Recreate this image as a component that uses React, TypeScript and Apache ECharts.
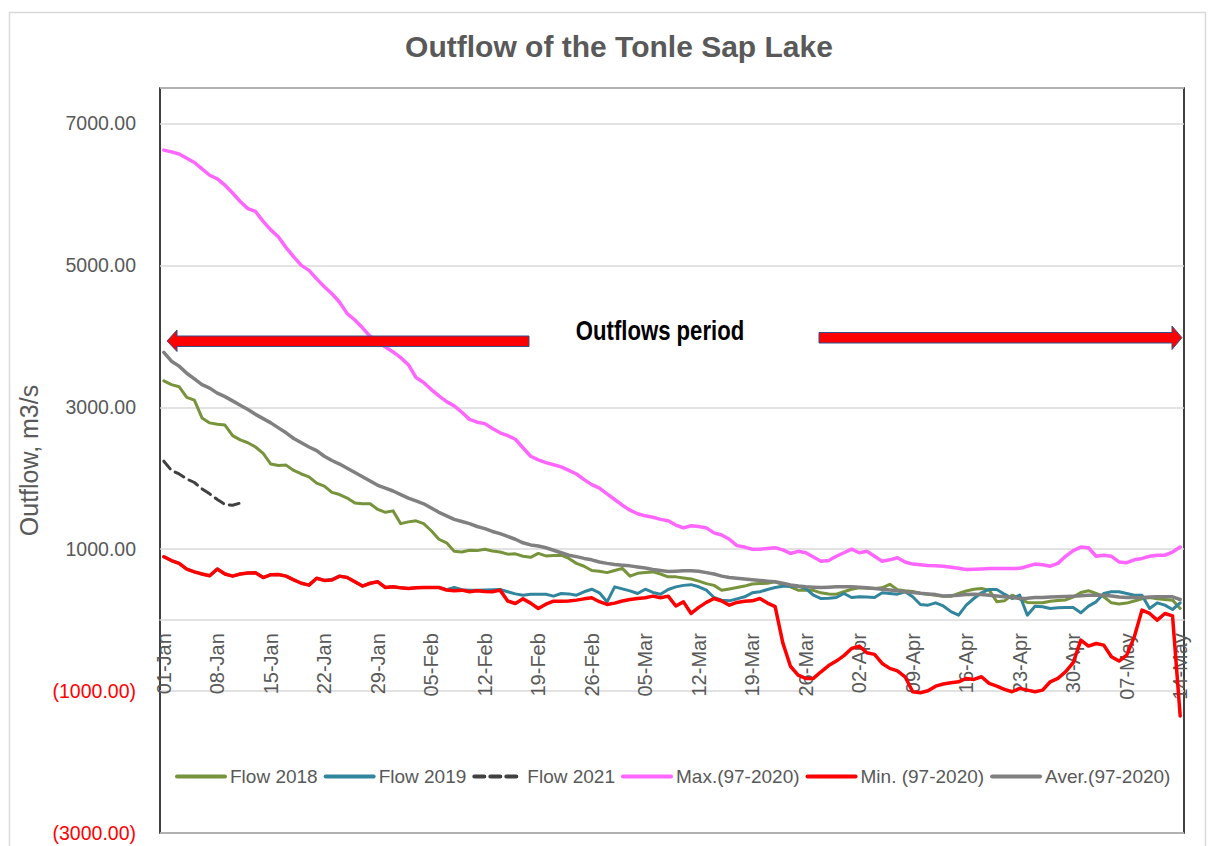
import React, { useEffect, useRef } from "react";
import * as echarts from "echarts";

// ---- categories: 01-Jan .. 14-May (daily) ----
const MONTHS = ["Jan", "Feb", "Mar", "Apr", "May"];
const MONTH_DAYS = [31, 28, 31, 30, 14];
const categories: string[] = [];
MONTHS.forEach((m, k) => {
  for (let d = 1; d <= MONTH_DAYS[k]; d++) {
    categories.push(`${d < 10 ? "0" + d : d}-${m}`);
  }
});

// ---- series values (m3/s) ----
const flow2018 = [
  3372, 3320, 3290, 3140, 3100, 2850, 2780, 2760, 2750, 2600,
  2540, 2500, 2440, 2350, 2200, 2180, 2185, 2110, 2060, 2020,
  1930, 1890, 1800, 1770, 1720, 1650, 1640, 1640, 1560, 1520,
  1540, 1360, 1385, 1400, 1360, 1260, 1140, 1090, 970, 960,
  985, 980, 1000, 975, 960, 930, 935, 900, 885, 940,
  905, 910, 915, 870, 800, 760, 700, 690, 670, 700,
  730, 620, 660, 670, 680, 650, 610, 610, 595, 580,
  550, 515, 490, 420, 440, 460, 480, 510, 516, 520,
  540, 500, 470, 423, 423, 420, 385, 370, 366, 400,
  435, 455, 450, 446, 455, 505, 430, 415, 405, 380,
  365, 352, 335, 335, 376, 410, 435, 446, 423, 260,
  272, 352, 300, 250, 244, 244, 265, 278, 285, 325,
  390, 415, 376, 330, 244, 228, 240, 270, 300, 319,
  300, 290, 282, 164,
];

const flow2019 = [
  894, 840, 800, 720, 680, 650, 625, 720, 650, 620,
  650, 665, 668, 600, 640, 643, 620, 568, 520, 493,
  590, 560, 575, 620, 600, 540, 480, 520, 540, 460,
  470, 455, 446, 455, 460, 460, 460, 430, 460, 430,
  422, 420, 425, 430, 432, 400, 370, 352, 366, 366,
  366, 338, 376, 370, 352, 400, 436, 385, 258, 469,
  440, 413, 376, 436, 390, 366, 432, 469, 490, 500,
  470, 423, 319, 282, 272, 300, 329, 385, 400, 432,
  460, 479, 479, 479, 446, 352, 305, 310, 319, 376,
  319, 329, 325, 319, 385, 375, 366, 399, 329, 220,
  211, 244, 200, 120, 70, 211, 305, 385, 432, 432,
  366, 305, 352, 70, 197, 188, 164, 174, 178, 178,
  103, 197, 258, 376, 399, 399, 376, 352, 352, 164,
  244, 211, 150, 244,
];

const flow2021 = [2240, 2110, 2060, 1990, 1940, 1850, 1780, 1700, 1630, 1620, 1650];

const maxFlow = [
  6625, 6600, 6570, 6510, 6450, 6360, 6270, 6220, 6130, 6020,
  5900, 5800, 5760, 5620, 5500, 5400, 5250, 5120, 5000, 4930,
  4810, 4700, 4600, 4480, 4320, 4230, 4120, 4000, 3930, 3850,
  3780, 3700, 3600, 3420, 3350, 3250, 3160, 3080, 3020, 2930,
  2830, 2790, 2770, 2700, 2640, 2600, 2550, 2430, 2310, 2260,
  2220, 2190, 2160, 2110, 2060, 1980, 1910, 1860, 1780, 1700,
  1620, 1550, 1500, 1470, 1450, 1420, 1400, 1340, 1300, 1330,
  1320, 1300, 1230, 1200, 1140, 1050, 1030, 1000, 1000, 1010,
  1020, 990, 940, 970, 950, 890, 830, 840, 900, 950,
  1000, 950, 970, 900, 830, 850, 880, 820, 790, 780,
  770, 765, 760, 745, 730, 715, 718, 722, 728, 728,
  728, 728, 730, 760, 790, 780, 760, 800, 900, 980,
  1030, 1020, 900, 915, 900, 820, 810, 850, 870, 900,
  915, 915, 960, 1030,
];

const minFlow = [
  894, 840, 800, 720, 680, 650, 625, 720, 650, 620,
  650, 665, 668, 600, 640, 643, 620, 568, 520, 493,
  590, 560, 565, 620, 600, 540, 480, 520, 540, 460,
  470, 455, 446, 455, 460, 460, 460, 425, 415, 423,
  400, 413, 405, 400, 423, 270, 235, 300, 240, 164,
  225, 268, 268, 270, 282, 300, 315, 260, 221, 240,
  270, 291, 305, 315, 338, 315, 338, 200, 258, 94,
  180, 250, 305, 270, 211, 250, 265, 272, 305, 240,
  190, -320, -650, -775, -821, -821, -728, -640, -577, -500,
  -400, -366, -460, -483, -610, -680, -714, -798, -1010, -1024,
  -995, -930, -900, -883, -869, -821, -836, -798, -892, -930,
  -976, -1009, -962, -986, -1009, -986, -869, -821, -728, -600,
  -282, -366, -329, -352, -516, -577, -493, -235, 141, 94,
  0, 94, 60, -1350,
];

const avgFlow = [
  3775, 3650, 3580, 3480, 3400, 3320, 3270, 3200, 3150, 3090,
  3030, 2970, 2900, 2840, 2780, 2710, 2640, 2560, 2500, 2440,
  2390, 2310, 2250, 2200, 2140, 2080, 2020, 1960, 1900, 1860,
  1820, 1770, 1720, 1680, 1640, 1580, 1520, 1470, 1420, 1390,
  1360, 1320, 1290, 1250, 1220, 1180, 1140, 1090, 1060, 1045,
  1020, 985, 950, 915, 895, 870, 850, 820, 800, 785,
  775, 765, 750, 735, 715, 700, 685, 690, 695, 695,
  690, 670, 650, 620, 600, 590, 580, 570, 560, 550,
  540, 520, 495, 480, 470, 465, 460, 465, 470, 470,
  470, 465, 455, 445, 435, 425, 415, 400, 390, 378,
  370, 360, 340, 345, 352, 360, 366, 360, 352, 340,
  330, 318, 305, 310, 318, 320, 325, 329, 333, 338,
  345, 352, 352, 352, 340, 325, 319, 319, 319, 325,
  329, 329, 329, 291,
];

const SERIES_NAMES = [
  "Flow 2018",
  "Flow 2019",
  "Flow 2021",
  "Max.(97-2020)",
  "Min. (97-2020)",
  "Aver.(97-2020)",
];

const Y_MIN = -3000;
const Y_MAX = 7500;
const Y_STEP = 2000;

const FONT = "'Liberation Sans', Arial, sans-serif";
const GREY_TEXT = "#595959";

// plot box (pixels)
const PLOT_TOP = 88;
const PLOT_BOTTOM = 833;

export default function App() {
  const ref = useRef<HTMLDivElement>(null);

  useEffect(() => {
    if (!ref.current) return;
    const chart = echarts.init(ref.current, undefined, { renderer: "svg" });

    // distance from the plot bottom to the y = 0 line (x axis sits on zero)
    const zeroOffset = ((0 - Y_MIN) / (Y_MAX - Y_MIN)) * (PLOT_BOTTOM - PLOT_TOP);

    const line = (name: string, data: number[], color: string, width: number, type: any = "solid") => ({
      name,
      type: "line",
      data,
      symbol: "none",
      showSymbol: false,
      smooth: false,
      lineStyle: { color, width, type, cap: "round", join: "round" },
      itemStyle: { color },
    });

    chart.setOption({
      animation: false,
      textStyle: { fontFamily: FONT },
      title: {
        text: "Outflow of the Tonle Sap Lake",
        left: 614,
        textAlign: "center",
        top: 26,
        textStyle: { fontSize: 30, fontWeight: "bold", color: GREY_TEXT, fontFamily: FONT },
      },
      legend: {
        data: SERIES_NAMES,
        left: 175,
        top: 767,
        padding: 0,
        itemWidth: 48,
        itemHeight: 4,
        itemGap: 6,
        itemStyle: { opacity: 0 },
        lineStyle: { width: 4 },
        textStyle: { fontSize: 19, color: GREY_TEXT, fontFamily: FONT },
      },
      grid: {
        left: 160,
        right: 29,
        top: PLOT_TOP,
        bottom: 846 - PLOT_BOTTOM,
        show: true,
        borderColor: "#000000",
        borderWidth: 1.5,
        containLabel: false,
        outerBoundsMode: "none",
      },
      xAxis: {
        type: "category",
        data: categories,
        boundaryGap: true,
        position: "bottom",
        offset: -zeroOffset,
        axisLine: { onZero: false, lineStyle: { color: "#D9D9D9", width: 1.5 } },
        axisTick: { show: false },
        axisLabel: {
          interval: 6,
          rotate: 90,
          margin: 13,
          fontSize: 20,
          color: GREY_TEXT,
          fontFamily: FONT,
        },
        splitLine: { show: false },
      },
      yAxis: {
        type: "value",
        min: Y_MIN,
        max: Y_MAX,
        interval: Y_STEP,
        name: "Outflow, m3/s",
        nameLocation: "middle",
        nameGap: 118,
        nameRotate: 90,
        nameTextStyle: { fontSize: 25, color: GREY_TEXT, fontFamily: FONT },
        axisLine: { show: false },
        axisTick: { show: false },
        axisLabel: {
          margin: 24,
          fontSize: 19.5,
          fontFamily: FONT,
          showMaxLabel: false,
          formatter: (v: number) => {
            const n = Number(v);
            return n < 0 ? `(${Math.abs(n).toFixed(2)})` : n.toFixed(2);
          },
          color: (v: any) => (Number(v) < 0 ? "#FF0000" : GREY_TEXT),
        },
        splitLine: { lineStyle: { color: "#D9D9D9", width: 1.5 } },
      },
      series: [
        line(SERIES_NAMES[0], flow2018, "#77933C", 3),
        line(SERIES_NAMES[1], flow2019, "#31859C", 3),
        line(SERIES_NAMES[2], flow2021, "#404040", 3, [10, 6]),
        line(SERIES_NAMES[3], maxFlow, "#FF66FF", 3.5),
        line(SERIES_NAMES[4], minFlow, "#FF0000", 3.5),
        line(SERIES_NAMES[5], avgFlow, "#808080", 3.5),
      ],
      graphic: [
        {
          type: "rect",
          silent: true,
          shape: { x: 9.5, y: 12.5, width: 1196, height: 860 },
          style: { fill: "none", stroke: "#D9D9D9", lineWidth: 1.5 },
          z: -10,
        },
        {
          type: "polygon",
          silent: true,
          z: 50,
          shape: {
            points: [
              [167, 341], [177, 330], [177, 336], [529, 336],
              [529, 346.5], [177, 346.5], [177, 351.5],
            ],
          },
          style: { fill: "#FF0000", stroke: "#2F528F", lineWidth: 1 },
        },
        {
          type: "polygon",
          silent: true,
          z: 50,
          shape: {
            points: [
              [1182, 337.7], [1172, 326], [1172, 332.5], [819, 332.5],
              [819, 343], [1172, 343], [1172, 349.5],
            ],
          },
          style: { fill: "#FF0000", stroke: "#2F528F", lineWidth: 1 },
        },
        {
          type: "text",
          silent: true,
          z: 50,
          x: 660,
          y: 331,
          scaleX: 0.82,
          style: {
            text: "Outflows period",
            fill: "#000000",
            font: "bold 27px 'Liberation Sans', Arial, sans-serif",
            textAlign: "center",
            textVerticalAlign: "middle",
          },
        },
      ],
    });

    return () => chart.dispose();
  }, []);

  return (
    <div
      ref={ref}
      style={{ position: "absolute", left: 0, top: 0, width: 1213, height: 846, background: "#ffffff" }}
    />
  );
}
